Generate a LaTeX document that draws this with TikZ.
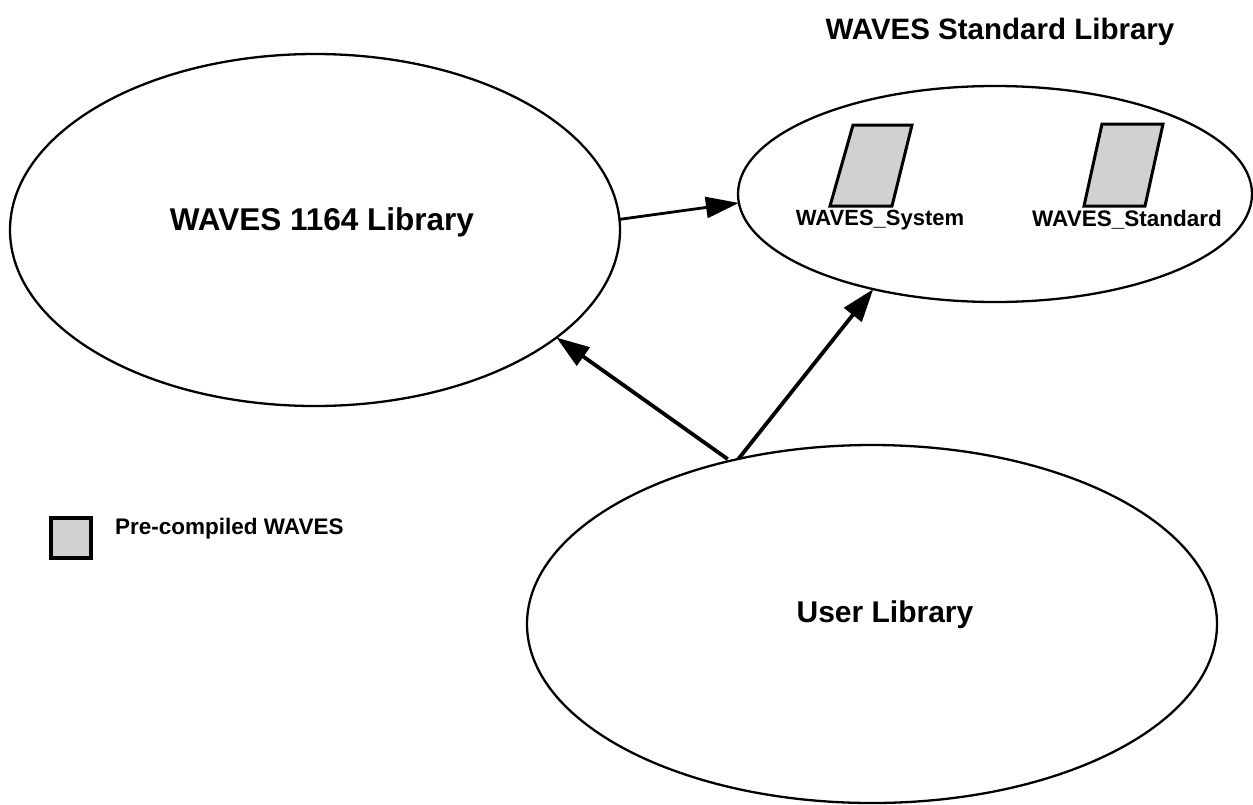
\documentclass[tikz,border=0pt]{standalone}
\usepackage{fontspec}
\setmainfont{Liberation Sans}
\usetikzlibrary{shapes.geometric,arrows.meta}
\definecolor{patgray}{gray}{0.82}
\tikzset{
  libell/.style={draw, ellipse, line width=2.3pt, inner sep=0pt, outer sep=0pt},
  bigtxt/.style={inner sep=0pt, font=\bfseries\fontsize{30}{36}\selectfont},
  lbl/.style={inner sep=0pt, font=\bfseries\fontsize{22}{26}\selectfont},
  conn/.style={line width=3.8pt, -{Triangle[length=33pt,width=22pt]}},
  connthin/.style={line width=2.8pt, -{Triangle[length=33pt,width=21pt]}},
  precomp/.style={draw, line width=3pt, fill=patgray, line join=miter},
}
\begin{document}
\begin{tikzpicture}[x=1pt,y=-1pt]
\useasboundingbox[fill=white] (0,0) rectangle (1253,804);
% title
\node[bigtxt, font=\bfseries\fontsize{29.5}{35}\selectfont] (title) at (1000,32) {WAVES Standard Library};
% ellipses
\node[libell, minimum width=610pt, minimum height=352pt] (lib) at (315,230) {};
\node[bigtxt, font=\bfseries\fontsize{31.5}{37}\selectfont] (libtxt) at (322,222) {WAVES 1164 Library};
\node[libell, minimum width=514pt, minimum height=216pt] (std) at (995,194) {};
\node[libell, minimum width=690pt, minimum height=358pt] (ul) at (872,624) {};
\node[bigtxt] (ultxt) at (885,615) {User Library};
% pre-compiled packages
\draw[precomp] (853,125) -- (912,125) -- (892,206) -- (830,206) -- cycle;
\draw[precomp] (1102,124) -- (1163,124) -- (1145,206) -- (1084,206) -- cycle;
\node[lbl] (sys) at (880,220) {WAVES\_System};
\node[lbl, font=\bfseries\fontsize{22.5}{27}\selectfont] (stdp) at (1127,220) {WAVES\_Standard};
% legend
\node[precomp, line width=3.5pt, minimum width=40pt, minimum height=40pt, inner sep=0pt] (legbox) at (71,538) {};
\node[lbl, anchor=west, font=\bfseries\fontsize{22.5}{27}\selectfont] (legtxt) at (115,529) {Pre-compiled WAVES};
% connectors
\draw[connthin] (lib.2.2) -- (std.182.9);
\draw[conn, shorten <=3pt] (ul.131.4) -- (lib.-24.5);
\draw[conn] (ul.129.1) -- (std.218.5);
\end{tikzpicture}
\end{document}
